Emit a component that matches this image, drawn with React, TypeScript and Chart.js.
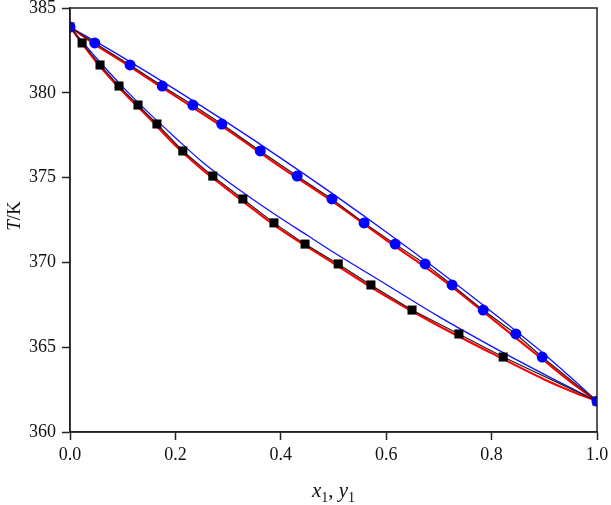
import React, { useEffect, useRef } from "react";
import { Chart, registerables } from "chart.js";

Chart.register(...registerables);

// Experimental tie-line temperatures (K)
const expT = [383.88, 382.94, 381.64, 380.40, 379.28, 378.16, 376.57, 375.09, 373.74, 372.33, 371.08, 369.91, 368.67, 367.19, 365.78, 364.42, 361.82];
// Liquid-phase mole fractions x1 (squares)
const liquidX = [0, 0.023, 0.057, 0.093, 0.129, 0.165, 0.214, 0.271, 0.328, 0.387, 0.446, 0.509, 0.571, 0.649, 0.738, 0.822, 1.0];
// Vapour-phase mole fractions y1 (circles)
const vaporY = [0, 0.047, 0.114, 0.175, 0.233, 0.288, 0.361, 0.431, 0.497, 0.558, 0.617, 0.674, 0.725, 0.784, 0.846, 0.896, 1.0];

// Model 1 (red) curves
const redLiqX = [0, 0.05, 0.1, 0.15, 0.2, 0.25, 0.3, 0.35, 0.4, 0.5, 0.6, 0.7, 0.8, 0.9, 0.95, 1.0];
const redLiqT = [383.88, 381.82, 380.08, 378.52, 376.9, 375.5, 374.28, 373.08, 371.93, 369.95, 368.0, 366.25, 364.65, 363.1, 362.42, 361.82];
const redVapX = [0, 0.05, 0.1, 0.2, 0.3, 0.4, 0.5, 0.6, 0.7, 0.8, 0.9, 0.95, 1.0];
const redVapT = [383.88, 382.8, 381.82, 379.8, 377.78, 375.62, 373.55, 371.32, 369.15, 366.7, 364.2, 362.96, 361.82];

// Model 2 (blue) curves
const blueLiqX = [0, 0.05, 0.1, 0.15, 0.2, 0.25, 0.3, 0.35, 0.4, 0.45, 0.5, 0.6, 0.7, 0.8, 0.9, 1.0];
const blueLiqT = [383.88, 382.05, 380.35, 378.8, 377.35, 375.95, 374.75, 373.65, 372.6, 371.6, 370.6, 368.7, 366.8, 365.05, 363.4, 361.82];
const blueVapX = [0, 0.05, 0.1, 0.2, 0.3, 0.4, 0.5, 0.6, 0.7, 0.8, 0.9, 0.95, 1.0];
const blueVapT = [383.88, 383.0, 382.09, 380.19, 378.21, 376.15, 374.01, 371.79, 369.49, 367.09, 364.59, 363.23, 361.82];

const xTicks = [0, 0.2, 0.4, 0.6, 0.8, 1.0];
const yTicks = [360, 365, 370, 375, 380, 385];

const pts = (xs: number[], ys: number[]) => xs.map((x, i) => ({ x, y: ys[i] }));

const FONT = "'Liberation Serif', 'Times New Roman', serif";
const AXIS = "#222";

const framePlugin = {
  id: "frameAndTitles",
  afterDraw(chart: any) {
    const { ctx, chartArea } = chart;
    const { left, right, top, bottom } = chartArea;
    ctx.save();
    ctx.strokeStyle = AXIS;
    ctx.lineWidth = 1.5;
    ctx.strokeRect(left, top, right - left, bottom - top);

    // y title: T/K
    ctx.fillStyle = "#111";
    ctx.textBaseline = "alphabetic";
    ctx.translate(20, 216);
    ctx.rotate(-Math.PI / 2);
    const fI = `italic 19px ${FONT}`;
    const fN = `19px ${FONT}`;
    ctx.font = fI;
    const wT = ctx.measureText("T").width;
    ctx.font = fN;
    const wK = ctx.measureText("/K").width;
    const sx = -(wT + wK) / 2;
    ctx.font = fI;
    ctx.fillText("T", sx, 0);
    ctx.font = fN;
    ctx.fillText("/K", sx + wT, 0);
    ctx.restore();

    // x title: x1, y1
    ctx.save();
    ctx.fillStyle = "#111";
    const big = `italic 21px ${FONT}`;
    const norm = `21px ${FONT}`;
    const sub = `14px ${FONT}`;
    const parts: [string, string, number][] = [
      ["x", big, 0],
      ["1", sub, 5],
      [", ", norm, 0],
      ["y", big, 0],
      ["1", sub, 5],
    ];
    let total = 0;
    for (const p of parts) {
      ctx.font = p[1];
      total += ctx.measureText(p[0]).width;
    }
    let cx = (left + right) / 2 - total / 2;
    const base = 497;
    for (const p of parts) {
      ctx.font = p[1];
      ctx.fillText(p[0], cx, base + p[2]);
      cx += ctx.measureText(p[0]).width;
    }
    ctx.restore();
  },
};

export default function App() {
  const ref = useRef<HTMLCanvasElement | null>(null);

  useEffect(() => {
    document.body.style.margin = "0";
    const canvas = ref.current;
    if (!canvas) return;

    const lineDs = (label: string, data: any[], color: string, width: number, order: number) => ({
      label,
      data,
      showLine: true,
      borderColor: color,
      borderWidth: width,
      pointRadius: 0,
      pointHoverRadius: 0,
      cubicInterpolationMode: "monotone" as const,
      fill: false,
      clip: 0,
      order,
    });

    const chart = new Chart(canvas, {
      type: "scatter",
      data: {
        datasets: [
          {
            label: "y1 exp",
            data: pts(vaporY, expT),
            showLine: true,
            borderColor: "#1a1a1a",
            borderWidth: 1.1,
            pointStyle: "circle",
            pointRadius: 5.5,
            pointBackgroundColor: "#0000ff",
            pointBorderColor: "#0000ff",
            pointBorderWidth: 0,
            clip: 0,
            order: 0,
          },
          {
            label: "x1 exp",
            data: pts(liquidX, expT),
            showLine: true,
            borderColor: "#1a1a1a",
            borderWidth: 1.1,
            pointStyle: "rect",
            pointRadius: 6.4,
            pointBackgroundColor: "#000",
            pointBorderColor: "#000",
            pointBorderWidth: 0,
            clip: 0,
            order: 1,
          },
          lineDs("model1 x", pts(redLiqX, redLiqT), "#ff0000", 2.2, 2),
          lineDs("model1 y", pts(redVapX, redVapT), "#ff0000", 2.2, 2),
          lineDs("model2 x", pts(blueLiqX, blueLiqT), "#1010ff", 1.3, 3),
          lineDs("model2 y", pts(blueVapX, blueVapT), "#1010ff", 1.3, 3),
        ],
      },
      options: {
        responsive: false,
        animation: false,
        devicePixelRatio: 1,
        layout: { padding: { top: 8, right: 14, left: 0, bottom: 0 } },
        plugins: { legend: { display: false }, tooltip: { enabled: false } },
        scales: {
          x: {
            type: "linear",
            min: 0,
            max: 1,
            afterBuildTicks: (s: any) => {
              s.ticks = xTicks.map((v) => ({ value: v }));
            },
            afterFit: (s: any) => {
              s.height = 73;
              s.paddingLeft = 0;
              s.paddingRight = 0;
            },
            ticks: {
              color: "#111",
              font: { family: FONT, size: 18 },
              padding: 4,
              maxRotation: 0,
              callback: (v: any) => Number(v).toFixed(1),
            },
            grid: { drawOnChartArea: false, drawTicks: true, tickLength: 8, tickColor: AXIS, tickWidth: 1.5 },
            border: { display: true, color: AXIS, width: 1.5 },
          },
          y: {
            type: "linear",
            min: 360,
            max: 385,
            afterBuildTicks: (s: any) => {
              s.ticks = yTicks.map((v) => ({ value: v }));
            },
            afterFit: (s: any) => {
              s.width = 70;
              s.paddingTop = 0;
              s.paddingBottom = 0;
            },
            ticks: {
              color: "#111",
              font: { family: FONT, size: 18 },
              padding: 6,
              callback: (v: any) => String(v),
            },
            grid: { drawOnChartArea: false, drawTicks: true, tickLength: 8, tickColor: AXIS, tickWidth: 1.5 },
            border: { display: true, color: AXIS, width: 1.5 },
          },
        },
      },
      plugins: [framePlugin],
    });

    return () => chart.destroy();
  }, []);

  return (
    <div style={{ width: 611, height: 505, background: "#fff" }}>
      <canvas ref={ref} width={611} height={505} style={{ display: "block" }} />
    </div>
  );
}
